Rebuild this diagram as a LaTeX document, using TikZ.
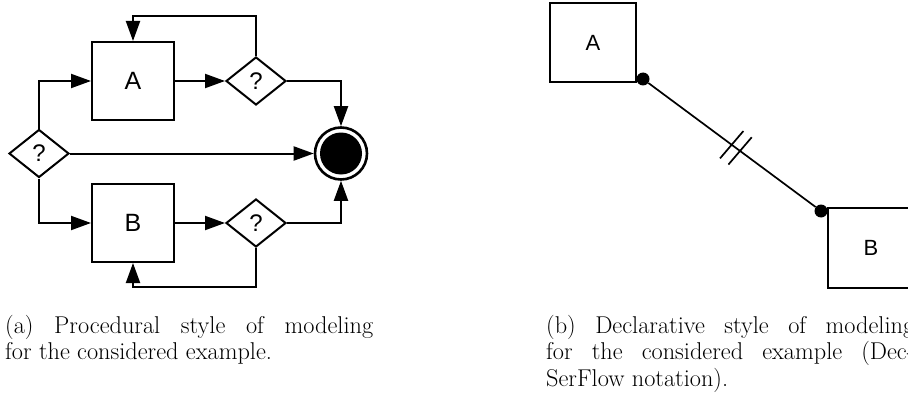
\documentclass[tikz,border=0pt]{standalone}
\usepackage{fontspec}
\newfontfamily\sanf{Liberation Sans}
\usetikzlibrary{arrows.meta,shapes.geometric}
\tikzset{
  boxL/.style={draw, line width=2pt, minimum width=82pt, minimum height=78pt, inner sep=0pt, font=\sanf\fontsize{25}{30}\selectfont},
  boxR/.style={draw, line width=1.8pt, minimum width=86pt, minimum height=79pt, inner sep=0pt, font=\sanf\fontsize{22}{26}\selectfont},
  dia/.style={diamond, draw, line width=2pt, minimum width=60pt, minimum height=48pt, inner sep=0pt, font=\sanf\fontsize{24}{28}\selectfont},
  arr/.style={-{Triangle[length=20pt,width=14pt]}, line width=2pt},
  dotnode/.style={circle, fill=black, minimum size=13pt, inner sep=0pt},
  capt/.style={anchor=base west, inner sep=0pt},
}
\begin{document}
\begin{tikzpicture}[x=1pt,y=-1pt]
\useasboundingbox (0,0) rectangle (908,396);
\clip (0,0) rectangle (908,396);
% ---- (a) procedural ----
\node[dia] (L) at (39,153.5) {?};
\node[boxL] (A) at (133,81) {A};
\node[boxL] (B) at (133,223) {B};
\node[dia] (DA) at (256,81) {?};
\node[dia] (DB) at (256,223) {?};
\node[circle, draw, line width=2.6pt, minimum size=52pt, inner sep=0pt] (E) at (341,153.5) {};
\node[circle, fill=black, minimum size=42pt, inner sep=0pt] (Ein) at (E) {};
\coordinate (topY) at (0,16);
\coordinate (botY) at (0,287);
\draw[arr] (L.north) |- (A.west);
\draw[arr] (L.south) |- (B.west);
\draw[arr] (L.east) -- (E.west);
\draw[arr] (A.east) -- (DA.west);
\draw[arr] (B.east) -- (DB.west);
\draw[arr] (DA.east) -| (E.north);
\draw[arr] (DB.east) -| (E.south);
\draw[arr] (DA.north) -- (DA.north |- topY) -| (A.north);
\draw[arr] (DB.south) -- (DB.south |- botY) -| (B.south);
% ---- (b) declarative ----
\node[boxR] (A2) at (593,42.5) {A};
\node[boxR, minimum height=80pt] (B2) at (871,248) {B};
\node[dotnode] (d1) at (643,79) {};
\node[dotnode] (d2) at (821,211) {};
\draw[line width=1.7pt] (d1) -- (d2) coordinate[pos=0.498] (m1) coordinate[pos=0.548] (m2);
\draw[line width=1.7pt] (m1) ++(-11.6,13.6) -- ++(23.3,-27.3);
\draw[line width=1.7pt] (m2) ++(-11.6,13.6) -- ++(23.3,-27.3);
% ---- captions ----
\node[capt] (capa) at (5,333) {\parbox[t]{368pt}{\fontsize{24.3}{26.5}\selectfont (a) Procedural style of modeling\linebreak for the considered example.}};
\node[capt] (capb) at (546,333) {\parbox[t]{368pt}{\fontsize{24.3}{26.5}\selectfont (b) Declarative style of modeling\linebreak for the considered example (Dec-\linebreak SerFlow notation).}};
\end{tikzpicture}
\end{document}
